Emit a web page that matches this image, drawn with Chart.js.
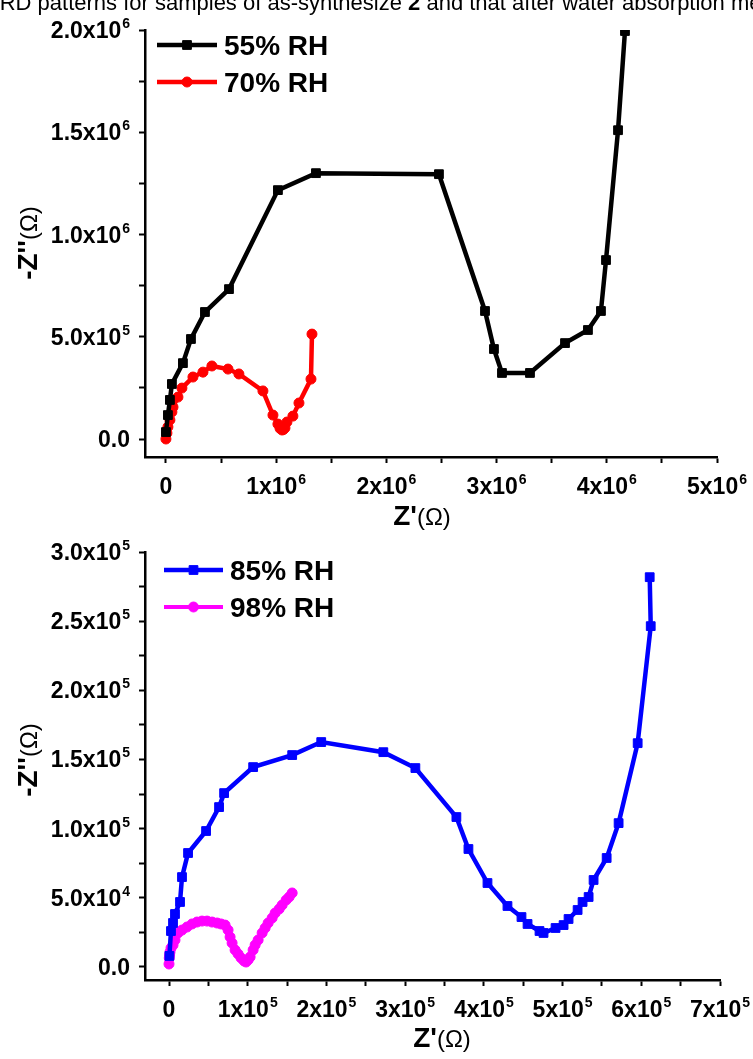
<!DOCTYPE html>
<html><head><meta charset="utf-8">
<script src="https://cdn.jsdelivr.net/npm/chart.js@4/dist/chart.umd.min.js"></script>
<style>
html,body{margin:0;padding:0;background:#fff;width:753px;height:1059px;overflow:hidden;position:relative}
#cap{position:absolute;left:-15px;top:-8px;font:22px/22px "Liberation Sans",Arial,sans-serif;white-space:nowrap;color:#000;z-index:3}
#c1{position:absolute;left:0;top:0}
#c2{position:absolute;left:0;top:530px}
</style></head><body>
<div id="cap">XRD patterns for samples of as-synthesize <b>2</b> and that after water absorption measured</div>
<canvas id="c1" width="753" height="540"></canvas>
<canvas id="c2" width="753" height="529"></canvas>
<script>
// ---------- DATA ----------
const rh55X = [0, 18000, 36000, 54000, 154000, 227000, 354000, 572000, 1016000, 1361000, 2477000, 2895000, 2976000, 3049000, 3303000, 3621000, 3829000, 3947000, 3993000, 4102000, 4165000];
const rh55Y = [34000, 117000, 191000, 269000, 371000, 489000, 621000, 733000, 1217000, 1300000, 1295000, 626000, 440000, 323000, 323000, 469000, 533000, 626000, 875000, 1510000, 1995000];

const rh70X = [0, 9000, 18000, 36000, 54000, 64000, 109000, 145000, 245000, 336000, 417000, 563000, 662000, 880000, 971000, 1016000, 1035000, 1053000, 1065000, 1080000, 1098000, 1152000, 1207000, 1316000, 1325000];
const rh70Y = [0, 29000, 59000, 93000, 132000, 156000, 205000, 249000, 303000, 327000, 357000, 342000, 318000, 235000, 117000, 73000, 52000, 44000, 46000, 54000, 83000, 112000, 176000, 293000, 513000];

const rh85X = [500, 2500, 5100, 7600, 14000, 16500, 24200, 47100, 63600, 70000, 106900, 156500, 193400, 272300, 313000, 365100, 380400, 404600, 430000, 447800, 455500, 470700, 475800, 491100, 501300, 507600, 519100, 525400, 533100, 539400, 556000, 571200, 595400, 612000, 610700];
const rh85Y = [8000, 26000, 31800, 38300, 47000, 65000, 82400, 98300, 115600, 125700, 144500, 153200, 162600, 155300, 143800, 108400, 85300, 60700, 44100, 36100, 31100, 26000, 24600, 28200, 30300, 34700, 41200, 47000, 50600, 62900, 78800, 104000, 161800, 246400, 281800];

const rh98X = [0, 300, 800, 1270, 2540, 5090, 7630, 11450, 16540, 22900, 29260, 35600, 41980, 48340, 54700, 61060, 66140, 71230, 75050, 77590, 80140, 83950, 87770, 91580, 95400, 97940, 100490, 103030, 106850, 109390, 113210, 118300, 122110, 125930, 131020, 134830, 139920, 143740, 148820, 152640, 156460];
const rh98Y = [2170, 6500, 8700, 10800, 13700, 15900, 19500, 24600, 26700, 28900, 31100, 32500, 33200, 33200, 32500, 31800, 31100, 30300, 26700, 21700, 17300, 12300, 9400, 6500, 4300, 3600, 5100, 7200, 12300, 15900, 19500, 24600, 28200, 31800, 35400, 39000, 41900, 44800, 48400, 50600, 53500];

// tick values (major labelled, minor unlabelled)
const topXMajor = [0, 1e6, 2e6, 3e6, 4e6, 5e6];
const topXMinor = [5e5, 1.5e6, 2.5e6, 3.5e6, 4.5e6];
const topYMajor = [0, 5e5, 1e6, 1.5e6, 2e6];
const topYMinor = [2.5e5, 7.5e5, 1.25e6, 1.75e6];
const botXMajor = [0, 1e5, 2e5, 3e5, 4e5, 5e5, 6e5, 7e5];
const botXMinor = [5e4, 1.5e5, 2.5e5, 3.5e5, 4.5e5, 5.5e5, 6.5e5];
const botYMajor = [0, 5e4, 1e5, 1.5e5, 2e5, 2.5e5, 3e5];
const botYMinor = [2.5e4, 7.5e4, 1.25e5, 1.75e5, 2.25e5, 2.75e5];

// tick labels: [mantissa text, superscript exponent]
const topXLabels = [["0",""],["1x10","6"],["2x10","6"],["3x10","6"],["4x10","6"],["5x10","6"]];
const topYLabels = [["0.0",""],["5.0x10","5"],["1.0x10","6"],["1.5x10","6"],["2.0x10","6"]];
const botXLabels = [["0",""],["1x10","5"],["2x10","5"],["3x10","5"],["4x10","5"],["5x10","5"],["6x10","5"],["7x10","5"]];
const botYLabels = [["0.0",""],["5.0x10","4"],["1.0x10","5"],["1.5x10","5"],["2.0x10","5"],["2.5x10","5"],["3.0x10","5"]];

const legendTop = ["55% RH", "70% RH"];
const legendBot = ["85% RH", "98% RH"];

// ---------- helpers ----------
const pts = (xs, ys) => xs.map((x, i) => ({x: x, y: ys[i]}));
const FONT = '"Liberation Sans", Arial, sans-serif';

function drawTickLabel(ctx, lab, x, y, align) {
  const mainF = 'bold 23px ' + FONT, supF = 'bold 14px ' + FONT;
  ctx.font = mainF; const w1 = ctx.measureText(lab[0]).width;
  ctx.font = supF; const w2 = lab[1] ? ctx.measureText(lab[1]).width + 1 : 0;
  const tot = w1 + w2;
  const left = align === 'center' ? x - tot / 2 : x - tot;
  ctx.textAlign = 'left'; ctx.textBaseline = 'alphabetic'; ctx.fillStyle = '#000';
  ctx.font = mainF; ctx.fillText(lab[0], left, y);
  if (lab[1]) { ctx.font = supF; ctx.fillText(lab[1], left + w1 + 1, y - 10); }
}

function mixedText(ctx, parts, cx, cy) {
  let tot = 0;
  parts.forEach(p => { ctx.font = p[1]; p.w = ctx.measureText(p[0]).width; tot += p.w; });
  let x = cx - tot / 2;
  ctx.textAlign = 'left'; ctx.textBaseline = 'alphabetic'; ctx.fillStyle = '#000';
  parts.forEach(p => { ctx.font = p[1]; ctx.fillText(p[0], x, cy); x += p.w; });
}

const decor = {
  id: 'decor',
  afterDraw(chart, args, o) {
    const ctx = chart.ctx, xs = chart.scales.x, ys = chart.scales.y;
    ctx.save();
    o.xMajor.forEach((v, i) => drawTickLabel(ctx, o.xLabels[i], xs.getPixelForValue(v), xs.bottom + 31, 'center'));
    o.yMajor.forEach((v, i) => drawTickLabel(ctx, o.yLabels[i], 130, ys.getPixelForValue(v) + 8, 'right'));
    mixedText(ctx, [["Z'", 'bold 28px ' + FONT], ["(\u03A9)", '24px ' + FONT]], o.xTitle[0], o.xTitle[1]);
    ctx.save();
    ctx.translate(o.yTitle[0], o.yTitle[1]);
    ctx.rotate(-Math.PI / 2);
    mixedText(ctx, [["-Z''", 'bold 28px ' + FONT], ["(\u03A9)", '24px ' + FONT]], 0, 0);
    ctx.restore();
    chart.data.datasets.forEach((ds, i) => {
      const y = o.legY[i];
      ctx.strokeStyle = ds.borderColor; ctx.fillStyle = ds.borderColor; ctx.lineWidth = ds.borderWidth;
      ctx.beginPath(); ctx.moveTo(o.legX[0], y); ctx.lineTo(o.legX[1], y); ctx.stroke();
      ctx.lineWidth = 1;
      Chart.helpers.drawPoint(ctx, {pointStyle: ds.pointStyle, radius: ds.pointRadius, borderWidth: 1}, (o.legX[0] + o.legX[1]) / 2, y);
      ctx.fillStyle = '#000';
      ctx.font = 'bold 28px ' + FONT; ctx.textAlign = 'left'; ctx.textBaseline = 'alphabetic';
      ctx.fillText(ds.label, o.legX[1] + 7, y + 10);
    });
    ctx.restore();
  }
};

function series(label, data, color, style, r, bw) {
  return {label, data, borderColor: color, backgroundColor: color, pointBackgroundColor: color,
    pointBorderColor: color, pointBorderWidth: 1, pointStyle: style, pointRadius: r,
    borderWidth: bw, tension: 0, showLine: true, fill: false};
}

function axis(min, max, major, minor) {
  return {
    type: 'linear', min, max,
    afterBuildTicks: s => { s.ticks = major.concat(minor).sort((a, b) => a - b).map(v => ({value: v})); },
    ticks: {display: false},
    grid: {display: true, drawOnChartArea: false, drawTicks: true, tickLength: 6, tickWidth: 2, tickColor: '#000'},
    border: {display: true, color: '#000', width: 2.5}
  };
}

function makeChart(id, datasets, sc, pad, o) {
  new Chart(document.getElementById(id), {
    type: 'scatter',
    data: {datasets},
    options: {
      responsive: false, animation: false, devicePixelRatio: 1,
      layout: {padding: pad},
      plugins: {legend: {display: false}, tooltip: {enabled: false}, decor: o},
      scales: {x: sc.x, y: sc.y}
    },
    plugins: [decor]
  });
}

makeChart('c1', [
    series(legendTop[0], pts(rh55X, rh55Y), '#000000', 'rect', 6.2, 4.5),
    series(legendTop[1], pts(rh70X, rh70Y), '#ff0000', 'circle', 5, 4.5)
  ],
  {x: axis(-190000, 5e6, topXMajor, topXMinor), y: axis(-88000, 2e6, topYMajor, topYMinor)},
  {left: 139, top: 30, right: 36, bottom: 77},
  {xMajor: topXMajor, xLabels: topXLabels, yMajor: topYMajor, yLabels: topYLabels,
   xTitle: [422, 525], yTitle: [37, 243], legX: [157, 217], legY: [45, 82]});

makeChart('c2', [
    series(legendBot[0], pts(rh85X, rh85Y), '#0000ff', 'rect', 6.2, 4.5),
    series(legendBot[1], pts(rh98X, rh98Y), '#ff00ff', 'circle', 5, 4)
  ],
  {x: axis(-30500, 7e5, botXMajor, botXMinor), y: axis(-9400, 3e5, botYMajor, botYMinor)},
  {left: 139, top: 22, right: 33, bottom: 73},
  {xMajor: botXMajor, xLabels: botXLabels, yMajor: botYMajor, yLabels: botYLabels,
   xTitle: [442, 517], yTitle: [37, 230], legX: [164, 223], legY: [40, 77]});
</script>
</body></html>
